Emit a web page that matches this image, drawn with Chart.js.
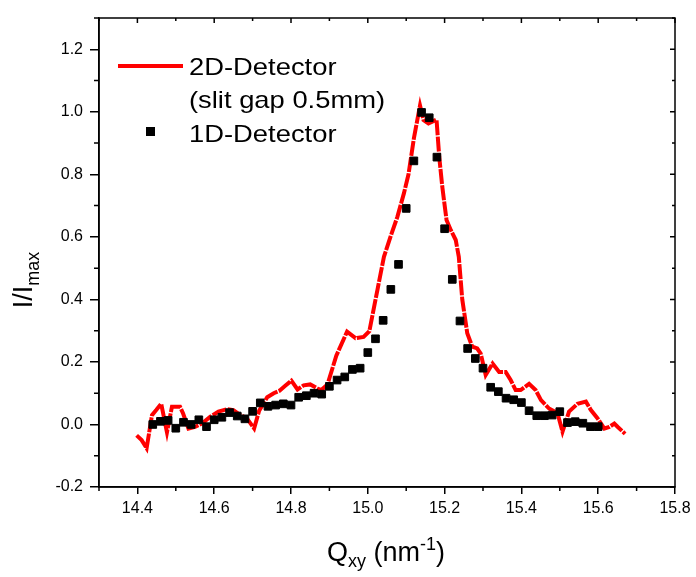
<!DOCTYPE html>
<html>
<head>
<meta charset="utf-8">
<script src="https://cdn.jsdelivr.net/npm/chart.js@4.4.1/dist/chart.umd.min.js"></script>
<style>
html, body { margin: 0; padding: 0; background: #fff; }
canvas { display: block; }
</style>
</head>
<body>
<canvas id="myChart" width="696" height="577"></canvas>
<script>
// 2D detector scan (slit gap 0.5mm)
const qRed = [14.398, 14.411, 14.424, 14.438, 14.449, 14.462, 14.477, 14.490, 14.511, 14.519,
    14.533, 14.550, 14.568, 14.590, 14.611, 14.633, 14.650, 14.668, 14.685, 14.704,
    14.717, 14.738, 14.755, 14.770, 14.785, 14.801, 14.817, 14.833, 14.850, 14.869,
    14.879, 14.895, 14.918, 14.946, 14.968, 14.989, 15.004, 15.025, 15.042, 15.059,
    15.077, 15.094, 15.106, 15.120, 15.136, 15.145, 15.158, 15.179, 15.186, 15.194,
    15.205, 15.216, 15.229, 15.237, 15.246, 15.259, 15.272, 15.285, 15.294, 15.307,
    15.325, 15.342, 15.359, 15.372, 15.385, 15.398, 15.420, 15.437, 15.451, 15.472,
    15.494, 15.507, 15.524, 15.546, 15.568, 15.581, 15.598, 15.616, 15.629, 15.642,
    15.651, 15.670];
const iRed = [-0.035, -0.05, -0.076, 0.03, 0.046, 0.066, -0.025, 0.057, 0.057, 0.035,
    -0.013, -0.008, 0.003, 0.025, 0.041, 0.049, 0.046, 0.03, 0.02, -0.013,
    0.044, 0.087, 0.1, 0.108, 0.124, 0.14, 0.112, 0.125, 0.128, 0.115,
    0.11, 0.128, 0.22, 0.297, 0.276, 0.28, 0.298, 0.43, 0.536, 0.6,
    0.664, 0.739, 0.8, 0.915, 1.02, 0.974, 0.963, 0.975, 0.856, 0.76,
    0.654, 0.622, 0.59, 0.536, 0.4, 0.292, 0.249, 0.243, 0.227, 0.158,
    0.195, 0.168, 0.168, 0.142, 0.11, 0.11, 0.13, 0.11, 0.078, 0.051,
    0.036, -0.023, 0.041, 0.066, 0.073, 0.046, 0.02, -0.013, -0.008, 0.003,
    -0.008, -0.03];

// 1D detector scan
const qSq = [14.44, 14.46, 14.48, 14.50, 14.52, 14.54, 14.56, 14.58, 14.60, 14.62,
    14.64, 14.66, 14.68, 14.70, 14.72, 14.74, 14.76, 14.78, 14.80, 14.82,
    14.84, 14.86, 14.88, 14.90, 14.92, 14.94, 14.96, 14.98, 15.00, 15.02,
    15.04, 15.06, 15.08, 15.10, 15.12, 15.14, 15.16, 15.18, 15.20, 15.22,
    15.24, 15.26, 15.28, 15.30, 15.32, 15.34, 15.36, 15.38, 15.40, 15.42,
    15.44, 15.46, 15.48, 15.50, 15.52, 15.54, 15.56, 15.58, 15.60];
const iSq = [0.0, 0.01, 0.013, -0.012, 0.007, 0.0, 0.015, -0.007, 0.015, 0.023,
    0.038, 0.027, 0.018, 0.042, 0.069, 0.058, 0.062, 0.066, 0.062, 0.087,
    0.092, 0.1, 0.097, 0.122, 0.142, 0.152, 0.176, 0.18, 0.23, 0.274,
    0.333, 0.432, 0.512, 0.691, 0.843, 0.998, 0.981, 0.855, 0.626, 0.464,
    0.331, 0.243, 0.211, 0.18, 0.119, 0.105, 0.084, 0.079, 0.07, 0.044,
    0.028, 0.028, 0.03, 0.041, 0.006, 0.009, 0.004, -0.007, -0.007];

const xTicks = [14.4, 14.6, 14.8, 15.0, 15.2, 15.4, 15.6, 15.8];
const xMinor = [14.3, 14.5, 14.7, 14.9, 15.1, 15.3, 15.5, 15.7];
const yTicks = [-0.2, 0.0, 0.2, 0.4, 0.6, 0.8, 1.0, 1.2];
const yMinor = [-0.1, 0.1, 0.3, 0.5, 0.7, 0.9, 1.1, 1.3];

const FONT = "'Liberation Sans', Arial, Helvetica, sans-serif";

function toPoints(xs, ys) {
    return xs.map((v, i) => ({x: v, y: ys[i]}));
}

// writes a row of text pieces (normal / sub / sup) centred on cx
function drawRuns(ctx, runs, cx, baseY) {
    let total = 0;
    runs.forEach(r => {
        ctx.font = r.size + 'px ' + FONT;
        r.w = ctx.measureText(r.text).width;
        total += r.w;
    });
    let x = cx - total / 2;
    runs.forEach(r => {
        ctx.font = r.size + 'px ' + FONT;
        ctx.fillText(r.text, x, baseY + (r.dy || 0));
        x += r.w;
    });
}

const framePlugin = {
    id: 'frame',
    afterDraw(chart) {
        const {ctx, chartArea: a, scales: {x, y}} = chart;
        ctx.save();
        ctx.strokeStyle = '#000';
        ctx.lineWidth = 1.5;
        ctx.strokeRect(a.left, a.top, a.right - a.left, a.bottom - a.top);

        ctx.beginPath();
        // minor ticks outside on bottom / left
        xMinor.forEach(v => {
            const px = x.getPixelForValue(v);
            ctx.moveTo(px, a.bottom); ctx.lineTo(px, a.bottom + 4);
            ctx.moveTo(px, a.top); ctx.lineTo(px, a.top + 3);
        });
        yMinor.forEach(v => {
            const py = y.getPixelForValue(v);
            ctx.moveTo(a.left, py); ctx.lineTo(a.left - 5, py);
            ctx.moveTo(a.right, py); ctx.lineTo(a.right - 3, py);
        });
        // ticks inside on top / right
        xTicks.forEach(v => {
            const px = x.getPixelForValue(v);
            ctx.moveTo(px, a.top); ctx.lineTo(px, a.top + 5);
        });
        yTicks.forEach(v => {
            const py = y.getPixelForValue(v);
            ctx.moveTo(a.right, py); ctx.lineTo(a.right - 5, py);
        });
        ctx.stroke();

        // legend
        ctx.strokeStyle = 'red';
        ctx.lineWidth = 4;
        ctx.beginPath();
        ctx.moveTo(118, 66); ctx.lineTo(183, 66);
        ctx.stroke();
        ctx.fillStyle = '#000';
        ctx.fillRect(146, 127, 9, 9);

        ctx.textAlign = 'left';
        ctx.textBaseline = 'alphabetic';
        ctx.font = '24px ' + FONT;
        const lines = [['2D-Detector', 75], ['(slit gap 0.5mm)', 108], ['1D-Detector', 142]];
        lines.forEach(([t, by]) => {
            ctx.save();
            ctx.translate(189, by);
            ctx.scale(1.14, 1);
            ctx.fillText(t, 0, 0);
            ctx.restore();
        });

        // axis titles
        drawRuns(ctx, [
            {text: 'Q', size: 27},
            {text: 'xy', size: 18, dy: 6},
            {text: ' (nm', size: 27},
            {text: '-1', size: 18, dy: -11},
            {text: ')', size: 27}
        ], 386, 561);

        ctx.save();
        ctx.translate(32, 280);
        ctx.rotate(-Math.PI / 2);
        drawRuns(ctx, [
            {text: 'I/I', size: 27},
            {text: 'max', size: 18, dy: 7}
        ], 0, 0);
        ctx.restore();

        ctx.restore();
    }
};

const ctx = document.getElementById('myChart');
const chart = new Chart(ctx, {
    type: 'line',
    data: {
        datasets: [{
            label: '1D-Detector',
            data: toPoints(qSq, iSq),
            showLine: false,
            pointStyle: 'rect',
            pointRadius: 5.4,
            pointBorderWidth: 1,
            pointBackgroundColor: '#000',
            pointBorderColor: '#000',
            order: 0
        }, {
            label: '2D-Detector',
            data: toPoints(qRed, iRed),
            borderColor: '#ff0000',
            borderWidth: 4,
            borderDash: [15, 1.3],
            pointRadius: 0,
            tension: 0,
            fill: false,
            order: 1
        }]
    },
    options: {
        responsive: false,
        animation: false,
        devicePixelRatio: 1,
        layout: {padding: {left: 0, top: 18, right: 21, bottom: 0}},
        plugins: {
            legend: {display: false},
            tooltip: {enabled: false}
        },
        scales: {
            x: {
                type: 'linear',
                min: 14.3,
                max: 15.8,
                afterBuildTicks: (s) => { s.ticks = xTicks.map(v => ({value: v})); },
                afterFit: (s) => { s.height = 90; },
                ticks: {
                    color: '#000',
                    font: {family: FONT, size: 16},
                    padding: 5,
                    maxRotation: 0,
                    callback: (v) => v.toFixed(1)
                },
                grid: {
                    drawOnChartArea: false,
                    color: '#000',
                    lineWidth: 1.5,
                    tickLength: 7
                },
                border: {color: '#000', width: 1.5}
            },
            y: {
                type: 'linear',
                min: -0.2,
                max: 1.3,
                afterBuildTicks: (s) => { s.ticks = yTicks.map(v => ({value: v})); },
                afterFit: (s) => { s.width = 99; },
                ticks: {
                    color: '#000',
                    font: {family: FONT, size: 16},
                    padding: 7,
                    callback: (v) => v.toFixed(1)
                },
                grid: {
                    drawOnChartArea: false,
                    color: '#000',
                    lineWidth: 1.5,
                    tickLength: 9
                },
                border: {color: '#000', width: 1.5}
            }
        }
    },
    plugins: [framePlugin]
});
</script>
</body>
</html>
